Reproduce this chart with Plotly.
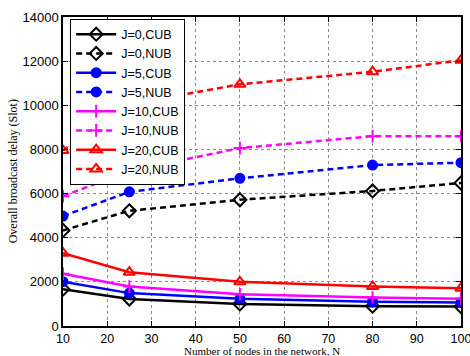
import plotly.graph_objects as go

N = [10, 25, 50, 80, 100]

j0_cub = [1670, 1220, 1000, 900, 880]
j0_nub = [4330, 5220, 5720, 6120, 6480]
j5_cub = [2010, 1490, 1230, 1100, 1060]
j5_nub = [4980, 6080, 6690, 7290, 7400]
j10_cub = [2370, 1790, 1440, 1290, 1230]
j10_nub = [5880, 7030, 8060, 8600, 8600]
j20_cub = [3300, 2440, 2000, 1790, 1710]
j20_nub = [7950, 10050, 10950, 11520, 12040]

series = [
    ("J=0,CUB", j0_cub, "#000000", "solid", "diamond-open"),
    ("J=0,NUB", j0_nub, "#000000", "6px,4px", "diamond-open"),
    ("J=5,CUB", j5_cub, "#0000ff", "solid", "circle"),
    ("J=5,NUB", j5_nub, "#0000ff", "6px,4px", "circle"),
    ("J=10,CUB", j10_cub, "#ff00ff", "solid", "cross-thin-open"),
    ("J=10,NUB", j10_nub, "#ff00ff", "6px,4px", "cross-thin-open"),
    ("J=20,CUB", j20_cub, "#ff0000", "solid", "triangle-up-open"),
    ("J=20,NUB", j20_nub, "#ff0000", "6px,4px", "triangle-up-open"),
]

x_ticks = [10, 20, 30, 40, 50, 60, 70, 80, 90, 100]
y_ticks = [0, 2000, 4000, 6000, 8000, 10000, 12000, 14000]
y_tick_labels = [str(v) for v in y_ticks]

x_title = "Number of nodes in the network, N"
y_title = "Overall broadcast delay (Slot)"

fig = go.Figure()
for name, vals, col, dash, sym in series:
    fig.add_trace(go.Scatter(
        x=N, y=vals, name=name, mode="lines+markers",
        line=dict(color=col, width=2.5, dash=dash),
        marker=dict(symbol=sym, size=10 if "diamond" in sym or "triangle" in sym else 9,
                    color=col, line=dict(color=col, width=2)),
    ))

axis_common = dict(
    showline=True, linecolor="black", linewidth=1.5, mirror="allticks",
    ticks="inside", ticklen=5, tickcolor="black",
    showgrid=True, gridcolor="#8a8a8a", griddash="dot", gridwidth=1,
    zeroline=False, automargin=False, ticklabeloverflow="allow",
    tickfont=dict(family="Liberation Sans, Arial", size=13, color="black"),
)

title_font = dict(family="Liberation Serif, Times New Roman", size=12, color="black")

fig.update_layout(
    width=470, height=356,
    margin=dict(l=63, r=9, t=17, b=30),
    paper_bgcolor="white", plot_bgcolor="white",
    showlegend=True,
    legend=dict(
        x=0.018, y=0.995, xanchor="left", yanchor="top",
        bgcolor="white", bordercolor="black", borderwidth=1,
        font=dict(family="Liberation Sans, Arial", size=12.5, color="black"),
        tracegroupgap=0, itemwidth=40,
    ),
    xaxis=dict(range=[10, 100], tickvals=x_ticks,
               **{**axis_common, "tickfont": dict(family="Liberation Sans, Arial", size=12.5, color="black")}),
    yaxis=dict(range=[0, 14000], tickvals=y_ticks, ticktext=y_tick_labels, **axis_common),
    annotations=[
        dict(text=x_title, xref="paper", yref="paper", x=0.5, y=-0.081,
             xanchor="center", yanchor="middle", showarrow=False,
             font=dict(title_font, size=11)),
        dict(text=y_title, xref="paper", yref="paper", x=-0.126, y=0.5,
             xanchor="center", yanchor="middle", showarrow=False, textangle=-90,
             font=title_font),
    ],
)

fig.write_html("out.html", config={"displayModeBar": False},
               post_script="document.body.style.margin='0';document.body.style.padding='0';")
